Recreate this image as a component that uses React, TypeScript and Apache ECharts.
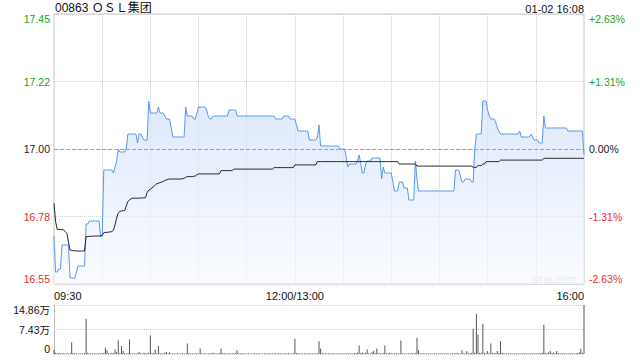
import React, { useEffect, useRef } from "react";
import * as echarts from "echarts";

const TITLE = "00863 ＯＳＬ集团";
const DATE_TEXT = "01-02 16:08";
const PREV_CLOSE = 17.0;

const priceTicks = ["16.55", "16.78", "17.00", "17.22", "17.45"];
const pctTicks = ["-2.63%", "-1.31%", "0.00%", "+1.31%", "+2.63%"];
const volTicks = ["0", "7.43万", "14.86万"];
const timeTickIdx = [0, 150, 330];
const timeTickLabels = ["09:30", "12:00/13:00", "16:00"];

const priceVals = [
  16.71, 16.59, 16.59, 16.60, 16.60, 16.68, 16.68, 16.68, 16.68, 16.68,
  16.57, 16.57, 16.57, 16.57, 16.59, 16.61, 16.61, 16.61, 16.61, 16.61,
  16.75, 16.75, 16.76, 16.76, 16.76, 16.76, 16.76, 16.76, 16.76, 16.71,
  16.71, 16.93, 16.93, 16.93, 16.93, 16.93, 16.93, 16.92, 16.94, 16.96,
  17.00, 16.99, 16.99, 16.99, 16.99, 17.00, 17.05, 17.05, 17.05, 17.05,
  17.05, 17.05, 17.02, 17.05, 17.05, 17.04, 17.03, 17.03, 17.03, 17.16,
  17.12, 17.12, 17.12, 17.12, 17.12, 17.14, 17.12, 17.12, 17.12, 17.11,
  17.10, 17.10, 17.10, 17.07, 17.04, 17.04, 17.04, 17.04, 17.04, 17.04,
  17.04, 17.04, 17.14, 17.11, 17.11, 17.11, 17.11, 17.10, 17.10, 17.12,
  17.14, 17.14, 17.14, 17.14, 17.14, 17.13, 17.11, 17.10, 17.10, 17.11,
  17.11, 17.11, 17.11, 17.11, 17.11, 17.11, 17.11, 17.11, 17.11, 17.13,
  17.13, 17.13, 17.13, 17.13, 17.11, 17.11, 17.11, 17.11, 17.11, 17.11,
  17.11, 17.11, 17.11, 17.11, 17.11, 17.11, 17.11, 17.11, 17.11, 17.11,
  17.11, 17.11, 17.11, 17.11, 17.11, 17.11, 17.11, 17.11, 17.10, 17.10,
  17.10, 17.10, 17.10, 17.11, 17.11, 17.11, 17.11, 17.10, 17.10, 17.10,
  17.10, 17.08, 17.06, 17.06, 17.06, 17.06, 17.06, 17.06, 17.06, 17.03,
  17.03, 17.03, 17.03, 17.03, 17.04, 17.08, 17.01, 17.01, 17.01, 17.01,
  17.01, 17.01, 17.01, 17.01, 17.01, 17.01, 17.01, 17.01, 17.00, 17.00,
  17.00, 17.00, 16.97, 16.94, 16.95, 16.95, 16.95, 16.95, 16.95, 16.96,
  16.98, 16.95, 16.92, 16.92, 16.95, 16.96, 16.96, 16.96, 16.97, 16.97,
  16.97, 16.97, 16.97, 16.97, 16.90, 16.94, 16.92, 16.92, 16.92, 16.92,
  16.92, 16.89, 16.86, 16.86, 16.86, 16.89, 16.89, 16.89, 16.87, 16.87,
  16.87, 16.83, 16.83, 16.83, 16.83, 16.96, 16.90, 16.86, 16.86, 16.86,
  16.86, 16.86, 16.86, 16.86, 16.86, 16.86, 16.86, 16.86, 16.86, 16.86,
  16.86, 16.86, 16.86, 16.86, 16.86, 16.86, 16.86, 16.86, 16.86, 16.86,
  16.93, 16.93, 16.93, 16.91, 16.89, 16.89, 16.90, 16.90, 16.90, 16.90,
  16.89, 16.89, 17.00, 17.05, 17.05, 17.05, 17.05, 17.16, 17.16, 17.16,
  17.13, 17.11, 17.10, 17.10, 17.10, 17.09, 17.07, 17.06, 17.05, 17.05,
  17.05, 17.05, 17.05, 17.05, 17.05, 17.05, 17.05, 17.05, 17.05, 17.05,
  17.06, 17.04, 17.04, 17.04, 17.04, 17.04, 17.04, 17.05, 17.04, 17.03,
  17.03, 17.03, 17.02, 17.02, 17.02, 17.11, 17.07, 17.07, 17.07, 17.07,
  17.07, 17.07, 17.07, 17.07, 17.07, 17.07, 17.07, 17.07, 17.07, 17.07,
  17.06, 17.06, 17.06, 17.06, 17.06, 17.06, 17.06, 17.06, 17.06, 17.06,
  16.98,
];

const avgVals = [
  16.819, 16.758, 16.732, 16.732, 16.732, 16.732, 16.730, 16.725, 16.719, 16.690,
  16.663, 16.662, 16.661, 16.661, 16.660, 16.660, 16.660, 16.660, 16.660, 16.660,
  16.708, 16.708, 16.709, 16.709, 16.709, 16.710, 16.710, 16.710, 16.710, 16.710,
  16.712, 16.721, 16.722, 16.722, 16.723, 16.724, 16.724, 16.730, 16.747, 16.770,
  16.786, 16.792, 16.794, 16.794, 16.795, 16.810, 16.825, 16.830, 16.834, 16.836,
  16.836, 16.836, 16.836, 16.836, 16.837, 16.837, 16.837, 16.838, 16.855, 16.863,
  16.866, 16.870, 16.874, 16.880, 16.884, 16.886, 16.888, 16.890, 16.892, 16.895,
  16.897, 16.899, 16.900, 16.900, 16.900, 16.900, 16.900, 16.900, 16.900, 16.900,
  16.901, 16.902, 16.906, 16.908, 16.908, 16.908, 16.908, 16.909, 16.910, 16.914,
  16.917, 16.917, 16.917, 16.917, 16.917, 16.917, 16.917, 16.917, 16.917, 16.917,
  16.917, 16.917, 16.917, 16.917, 16.928, 16.928, 16.928, 16.928, 16.928, 16.928,
  16.928, 16.928, 16.933, 16.933, 16.933, 16.933, 16.933, 16.933, 16.933, 16.933,
  16.933, 16.933, 16.933, 16.933, 16.933, 16.933, 16.933, 16.933, 16.933, 16.933,
  16.933, 16.933, 16.933, 16.933, 16.933, 16.933, 16.933, 16.938, 16.938, 16.938,
  16.938, 16.938, 16.938, 16.938, 16.938, 16.938, 16.938, 16.938, 16.938, 16.938,
  16.947, 16.947, 16.947, 16.947, 16.947, 16.947, 16.947, 16.947, 16.947, 16.947,
  16.947, 16.947, 16.947, 16.947, 16.958, 16.958, 16.958, 16.958, 16.958, 16.958,
  16.958, 16.958, 16.958, 16.958, 16.958, 16.958, 16.958, 16.958, 16.958, 16.958,
  16.958, 16.958, 16.958, 16.958, 16.958, 16.958, 16.958, 16.958, 16.958, 16.958,
  16.958, 16.958, 16.958, 16.958, 16.958, 16.958, 16.958, 16.958, 16.958, 16.958,
  16.958, 16.958, 16.958, 16.958, 16.958, 16.958, 16.958, 16.958, 16.958, 16.958,
  16.958, 16.958, 16.958, 16.958, 16.958, 16.950, 16.950, 16.950, 16.950, 16.950,
  16.950, 16.950, 16.950, 16.950, 16.950, 16.950, 16.943, 16.943, 16.943, 16.943,
  16.943, 16.943, 16.943, 16.943, 16.943, 16.943, 16.943, 16.943, 16.943, 16.943,
  16.943, 16.943, 16.943, 16.943, 16.943, 16.943, 16.943, 16.943, 16.943, 16.943,
  16.943, 16.943, 16.943, 16.943, 16.943, 16.943, 16.943, 16.943, 16.943, 16.943,
  16.943, 16.939, 16.939, 16.939, 16.945, 16.945, 16.945, 16.950, 16.950, 16.958,
  16.958, 16.958, 16.958, 16.958, 16.958, 16.958, 16.958, 16.958, 16.963, 16.963,
  16.963, 16.963, 16.963, 16.963, 16.963, 16.963, 16.963, 16.963, 16.963, 16.963,
  16.963, 16.963, 16.963, 16.963, 16.963, 16.963, 16.963, 16.963, 16.963, 16.963,
  16.963, 16.963, 16.963, 16.963, 16.963, 16.969, 16.969, 16.969, 16.969, 16.969,
  16.969, 16.969, 16.969, 16.969, 16.969, 16.969, 16.969, 16.969, 16.969, 16.969,
  16.969, 16.969, 16.969, 16.969, 16.969, 16.969, 16.969, 16.969, 16.969, 16.969,
  16.969,
];

const volVals = [
  14000, 4000, 2500, 3000, 1500, 2000, 2500, 1200, 2000, 1800, 2500, 35900, 3000, 1500, 2000, 1000, 1800, 2200, 1500, 3000, 106700, 3500, 2000, 1500, 2500, 1200, 2000, 1800, 2600, 1500,
  2000, 3000, 18900, 11000, 2500, 1500, 3000, 2000, 14000, 5000, 41900, 3000, 24000, 9000, 2000, 1500, 3000, 43900, 2500, 1500, 2000, 1200, 2500, 6000, 2000, 1500, 3500, 1800, 2200, 4000,
  56800, 3000, 2000, 14000, 2500, 24000, 3000, 1500, 2000, 4500, 6000, 2500, 5000, 1800, 2000, 1200, 1500, 2500, 1000, 1800, 2000, 1500, 2500, 31900, 3000, 1500, 2000, 1200, 1800, 2500,
  1500, 17000, 2500, 1500, 2000, 1000, 1800, 2500, 1500, 3500, 2000, 1200, 1800, 2500, 17000, 3000, 1500, 2000, 1200, 2500, 1800, 1500, 2000, 3000, 11000, 2500, 1500, 2000, 1200, 1800,
  1500, 2000, 1000, 1800, 1500, 2500, 1200, 1500, 2000, 1000, 1800, 1500, 2200, 1200, 2500, 1500, 1800, 1200, 2000, 1500, 3000, 1500, 1800, 1200, 2500, 1500, 2000, 1200, 1800, 2500,
  46900, 3000, 2000, 1500, 2500, 1200, 1800, 2000, 1500, 2500, 1800, 1200, 2000, 1500, 2500, 38900, 17000, 3000, 1500, 2000, 1200, 1800, 2500, 1500, 2000, 1200, 1800, 1500, 2200, 1200,
  2000, 1500, 2500, 1800, 1200, 2000, 1500, 3000, 2000, 4000, 26000, 3000, 4500, 2000, 3500, 14000, 2500, 1500, 5000, 9000, 3000, 17000, 2500, 2000, 1500, 3000, 26000, 2500, 2000, 3500,
  2000, 1500, 2500, 3000, 2000, 1500, 40900, 2500, 1500, 1800, 1200, 2000, 1500, 2500, 1800, 3000, 48900, 11000, 2500, 1500, 2000, 1800, 1200, 2000, 1500, 1800, 1200, 2000, 1500, 1800,
  1200, 2000, 1500, 1800, 1200, 2000, 1500, 1800, 2500, 1500, 2000, 3500, 2000, 1500, 11000, 2500, 3000, 9000, 2500, 2000, 3000, 76800, 4000, 121700, 58800, 3000, 4000, 91700, 3000, 2000,
  9000, 2500, 31900, 3000, 2000, 2500, 9000, 3000, 38900, 3500, 2500, 2000, 1500, 2500, 1800, 2000, 1500, 2500, 1800, 2000, 1500, 2500, 1800, 2000, 1500, 2500, 1800, 2200, 1500, 2000,
  2500, 1500, 2000, 2500, 3500, 88800, 3000, 2000, 5000, 9000, 3000, 4500, 2500, 9000, 3000, 2000, 2500, 1800, 2200, 1500, 2000, 2500, 1800, 2000, 1500, 2500, 3000, 5000, 16000, 4000,
  148600,
];

// minute categories: 09:30-12:00 then 13:01-16:00
const categories: string[] = [];
for (let i = 0; i < priceVals.length; i++) {
  const m = i <= 150 ? 9 * 60 + 30 + i : 13 * 60 + (i - 150);
  const h = Math.floor(m / 60);
  const mm = m % 60;
  categories.push(`${String(h).padStart(2, "0")}:${String(mm).padStart(2, "0")}`);
}

const FONT = 'Arial, "Liberation Sans", "Noto Sans CJK SC", sans-serif';
const GREEN = "#1a9f1a";
const RED = "#e53030";
const BLACK = "#222";

function tickIndex(v: number) {
  return Math.round((Number(v) - 16.55) / 0.225);
}
function priceColor(v: any) {
  const n = Number(v);
  if (n > PREV_CLOSE + 0.001) return GREEN;
  if (n < PREV_CLOSE - 0.001) return RED;
  return BLACK;
}

export default function App() {
  const ref = useRef<HTMLDivElement>(null);
  useEffect(() => {
    if (!ref.current) return;
    const chart = echarts.init(ref.current, undefined, { renderer: "svg" });
    chart.setOption({
      animation: false,
      backgroundColor: "#fff",
      textStyle: { fontFamily: FONT },
      title: [
        {
          text: TITLE,
          left: 55,
          top: 2,
          padding: 0,
          textStyle: { fontSize: 12, fontWeight: "normal", color: "#111", fontFamily: FONT },
        },
        {
          text: DATE_TEXT,
          right: 56,
          top: 3,
          padding: 0,
          textStyle: { fontSize: 11, fontWeight: "normal", color: "#111", fontFamily: FONT },
        },
      ],
      grid: [
        { left: 54, top: 14, width: 530, height: 270, show: true, borderColor: "#c8c8c8", borderWidth: 1, backgroundColor: "transparent" },
        { left: 54, top: 305, width: 530, height: 49 },
      ],
      xAxis: [
        {
          type: "category",
          gridIndex: 0,
          data: categories,
          boundaryGap: false,
          axisLine: { show: false },
          axisTick: { show: false },
          axisLabel: {
            interval: (idx: number) => timeTickIdx.indexOf(idx) >= 0,
            formatter: (_v: string, idx: number) => {
              const k = timeTickIdx.indexOf(idx);
              return k >= 0 ? timeTickLabels[k] : "";
            },
            alignMinLabel: "left",
            alignMaxLabel: "right",
            color: "#111",
            fontSize: 11,
            margin: 6,
            fontFamily: FONT,
          },
          splitLine: {
            show: true,
            interval: (idx: number) => idx % 30 === 0 && idx > 0 && idx < 330,
            lineStyle: { color: "#d0d0d0", type: "dotted", width: 1 },
          },
        },
        {
          type: "category",
          gridIndex: 1,
          data: categories,
          boundaryGap: false,
          axisLine: { show: false },
          axisTick: { show: false },
          axisLabel: { show: false },
          splitLine: { show: false },
        },
      ],
      yAxis: [
        {
          type: "value",
          gridIndex: 0,
          min: 16.55,
          max: 17.45,
          interval: 0.225,
          axisLine: { show: false },
          axisTick: { show: false },
          axisLabel: {
            formatter: (v: number) => priceTicks[tickIndex(v)] ?? "",
            color: (v: any) => priceColor(v),
            fontSize: 10.5,
            margin: 4,
            fontFamily: FONT,
            verticalAlignMinLabel: "bottom",
            verticalAlignMaxLabel: "top",
          },
          splitLine: { show: true, lineStyle: { color: "#d0d0d0", type: "dotted" } },
        },
        {
          type: "value",
          gridIndex: 0,
          position: "right",
          min: 16.55,
          max: 17.45,
          interval: 0.225,
          axisLine: { show: false },
          axisTick: { show: false },
          axisLabel: {
            formatter: (v: number) => pctTicks[tickIndex(v)] ?? "",
            color: (v: any) => priceColor(v),
            fontSize: 10.5,
            margin: 5,
            fontFamily: FONT,
            verticalAlignMinLabel: "bottom",
            verticalAlignMaxLabel: "top",
          },
          splitLine: { show: false },
        },
        {
          type: "value",
          gridIndex: 1,
          min: 0,
          max: 148600,
          interval: 74300,
          axisLine: { show: true, lineStyle: { color: "#bdbdbd" } },
          axisTick: { show: false },
          axisLabel: {
            formatter: (v: number) => volTicks[Math.round(Number(v) / 74300)] ?? "",
            color: "#111",
            fontSize: 10.5,
            margin: 4,
            fontFamily: FONT,
            verticalAlignMinLabel: "bottom",
            verticalAlignMaxLabel: "top",
          },
          splitLine: { show: true, lineStyle: { color: "#c8c8c8", type: "dotted" } },
        },
      ],
      graphic: [
        {
          type: "text",
          x: 532,
          y: 273,
          silent: true,
          style: { text: "sina.com", fill: "#d2d2d2", font: `11px ${FONT}` },
        },
      ],
      series: [
        {
          name: "price",
          type: "line",
          xAxisIndex: 0,
          yAxisIndex: 0,
          data: priceVals,
          symbol: "none",
          lineStyle: { color: "#5a96f0", width: 1 },
          areaStyle: {
            origin: "start",
            color: new echarts.graphic.LinearGradient(0, 0, 0, 1, [
              { offset: 0, color: "rgba(206,222,250,0.95)" },
              { offset: 1, color: "rgba(246,249,255,0.9)" },
            ]),
          },
          markLine: {
            silent: true,
            symbol: ["none", "none"],
            label: { show: false },
            lineStyle: { color: "#a0a0a0", type: [4, 2], width: 1 },
            data: [{ yAxis: PREV_CLOSE }],
          },
          z: 2,
        },
        {
          name: "avg",
          type: "line",
          xAxisIndex: 0,
          yAxisIndex: 0,
          data: avgVals,
          symbol: "none",
          lineStyle: { color: "#222", width: 1 },
          z: 3,
        },
        {
          name: "volume",
          type: "bar",
          xAxisIndex: 1,
          yAxisIndex: 2,
          data: volVals,
          barWidth: 1,
          clip: false,
          itemStyle: { color: "#555" },
        },
      ],
    });
    return () => chart.dispose();
  }, []);
  return (
    <div
      ref={ref}
      style={{ position: "fixed", left: 0, top: 0, width: 640, height: 360, background: "#fff" }}
    />
  );
}
